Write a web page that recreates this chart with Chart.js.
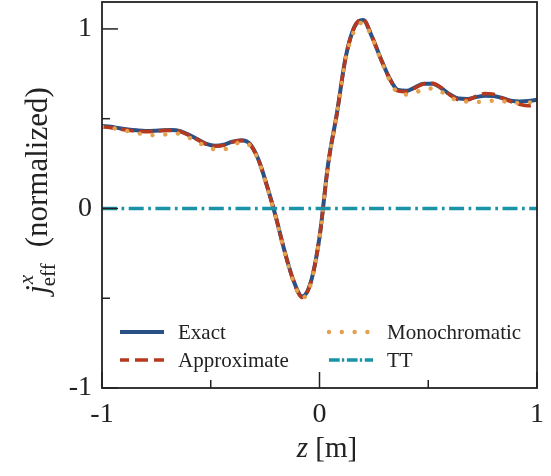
<!DOCTYPE html>
<html>
<head>
<meta charset="utf-8">
<script src="https://cdn.jsdelivr.net/npm/chart.js@4.4.0/dist/chart.umd.min.js"></script>
<style>
  body { margin: 0; background: #fff; }
</style>
</head>
<body>
<canvas id="myChart" width="551" height="476"></canvas>
<script>
// valores
const zs = [-1, -0.96, -0.92, -0.88, -0.84, -0.8, -0.76, -0.72, -0.68, -0.64, -0.6, -0.56, -0.52, -0.48, -0.44, -0.4, -0.36, -0.32, -0.28, -0.24, -0.2, -0.16, -0.12, -0.08, -0.04, 0, 0.04, 0.08, 0.12, 0.16, 0.2, 0.24, 0.28, 0.32, 0.36, 0.4, 0.44, 0.48, 0.52, 0.56, 0.6, 0.64, 0.68, 0.72, 0.76, 0.8, 0.84, 0.88, 0.92, 0.96, 1];
const exact = [0.46, 0.455, 0.447, 0.44, 0.435, 0.432, 0.433, 0.436, 0.437, 0.43, 0.41, 0.385, 0.36, 0.35, 0.355, 0.372, 0.38, 0.36, 0.27, 0.12, -0.05, -0.24, -0.40, -0.49, -0.41, -0.16, 0.25, 0.53, 0.84, 1.01, 1.05, 0.96, 0.84, 0.73, 0.66, 0.655, 0.675, 0.695, 0.695, 0.67, 0.635, 0.612, 0.61, 0.62, 0.628, 0.627, 0.615, 0.60, 0.596, 0.598, 0.605];
const approx = [0.455, 0.45, 0.443, 0.436, 0.43, 0.428, 0.43, 0.434, 0.435, 0.428, 0.408, 0.382, 0.357, 0.347, 0.352, 0.37, 0.378, 0.358, 0.268, 0.118, -0.052, -0.242, -0.402, -0.495, -0.412, -0.162, 0.248, 0.528, 0.838, 1.01, 1.055, 0.962, 0.838, 0.728, 0.655, 0.65, 0.672, 0.695, 0.697, 0.672, 0.632, 0.606, 0.605, 0.625, 0.64, 0.636, 0.615, 0.595, 0.58, 0.572, 0.578];
const mono = [0.455, 0.45, 0.44, 0.43, 0.42, 0.412, 0.408, 0.41, 0.418, 0.415, 0.395, 0.37, 0.345, 0.33, 0.33, 0.35, 0.37, 0.35, 0.265, 0.115, -0.055, -0.245, -0.405, -0.50, -0.42, -0.165, 0.245, 0.525, 0.83, 0.99, 1.035, 0.955, 0.835, 0.72, 0.645, 0.635, 0.645, 0.665, 0.668, 0.65, 0.62, 0.60, 0.595, 0.593, 0.595, 0.60, 0.598, 0.59, 0.587, 0.59, 0.595];
const ttZ = [-1, 1];
const tt = [0, 0];
const xTicks = [-1, -0.5, 0, 0.5, 1];
const yTicks = [-1, -0.5, 0, 0.5, 1];

const serif = "'Liberation Serif', 'DejaVu Serif', serif";
const ink = '#222';

function pts(xs, ys){ return xs.map((x, i) => ({x: x, y: ys[i]})); }

// moldura e marcas para dentro
const framePlugin = {
    id: 'frame',
    afterDraw(chart){
        const c = chart.ctx, a = chart.chartArea;
        const sx = chart.scales.x, sy = chart.scales.y;
        c.save();
        c.strokeStyle = ink;
        c.lineWidth = 1.8;
        c.strokeRect(a.left, a.top, a.right - a.left, a.bottom - a.top);
        c.lineWidth = 1.5;
        xTicks.forEach(v => {
            const px = sx.getPixelForValue(v);
            const len = Number.isInteger(v) ? 16 : 8;
            c.beginPath(); c.moveTo(px, a.bottom); c.lineTo(px, a.bottom - len); c.stroke();
        });
        yTicks.forEach(v => {
            const py = sy.getPixelForValue(v);
            const len = Number.isInteger(v) ? 16 : 8;
            c.beginPath(); c.moveTo(a.left, py); c.lineTo(a.left + len, py); c.stroke();
        });

        // título do eixo x: z [m]
        c.fillStyle = ink;
        c.textBaseline = 'alphabetic';
        c.font = 'italic 29px ' + serif;
        const wz = c.measureText('z ').width;
        c.font = '29px ' + serif;
        const wm = c.measureText('[m]').width;
        let x0 = 327 - (wz + wm) / 2;
        c.font = 'italic 29px ' + serif;
        c.fillText('z', x0, 457);
        c.font = '29px ' + serif;
        c.fillText('[m]', x0 + wz, 457);

        // título do eixo y
        c.translate(47, 191);
        c.rotate(-Math.PI / 2);
        c.font = 'italic 31px ' + serif;
        const wj = c.measureText('j').width;
        c.font = 'italic 21px ' + serif;
        const wx = c.measureText('x').width;
        c.font = '21px ' + serif;
        const we = c.measureText('eff').width;
        c.font = '31px ' + serif;
        const wn = c.measureText('(normalized)').width;
        const total = wj + Math.max(wx, we) + 14 + wn;
        let p = -total / 2;
        c.font = 'italic 31px ' + serif;
        c.fillText('j', p, 0);
        p += wj + 1;
        c.font = 'italic 21px ' + serif;
        c.fillText('x', p, -14);
        c.font = '21px ' + serif;
        c.fillText('eff', p - 2, 8);
        p += Math.max(wx, we) + 14;
        c.font = '31px ' + serif;
        c.fillText('(normalized)', p, 0);
        c.restore();
    }
};

// legenda em duas colunas
const legendPlugin = {
    id: 'twoColLegend',
    afterDraw(chart){
        const c = chart.ctx;
        const slots = [[118, 332], [118, 360], [327, 332], [327, 360]];
        c.save();
        c.font = '21px ' + serif;
        c.textBaseline = 'middle';
        chart.data.datasets.forEach((ds, i) => {
            const [lx, ly] = slots[i];
            c.strokeStyle = ds.borderColor;
            c.lineWidth = ds.borderWidth;
            c.setLineDash(ds.legendDash || ds.borderDash || []);
            c.lineDashOffset = ds.legendDashOffset || 0;
            c.lineCap = ds.borderCapStyle || 'butt';
            c.beginPath(); c.moveTo(lx + 2, ly); c.lineTo(lx + 46, ly); c.stroke();
            c.setLineDash([]);
            c.fillStyle = ink;
            c.fillText(ds.label, lx + 60, ly + 1);
        });
        c.restore();
    }
};

const ctx = document.getElementById('myChart').getContext('2d');
const myChart = new Chart(ctx, {
    type: 'line',
    data: {
        datasets: [
            {
                label: 'Exact',
                data: pts(zs, exact),
                borderColor: '#2a5185',
                borderWidth: 4,
                order: 4
            },
            {
                label: 'Approximate',
                data: pts(zs, approx),
                borderColor: '#b7391d',
                borderWidth: 3.6,
                borderDash: [13, 6],
                legendDashOffset: 4,
                order: 3
            },
            {
                label: 'Monochromatic',
                data: pts(zs, mono),
                borderColor: '#e5a04e',
                borderWidth: 4.4,
                borderDash: [0.01, 12.8],
                borderCapStyle: 'round',
                order: 2
            },
            {
                label: 'TT',
                data: pts(ttZ, tt),
                borderColor: '#1a93a8',
                borderWidth: 3.6,
                borderDash: [15, 4.5, 2.7, 4.5],
                legendDash: [10.7, 2.2, 2.3, 2.7],
                order: 1
            }
        ]
    },
    plugins: [framePlugin, legendPlugin],
    options: {
        responsive: false,
        animation: false,
        layout: { padding: { top: 2, right: 14, left: 0, bottom: 0 } },
        elements: {
            point: { radius: 0 },
            line: { cubicInterpolationMode: 'monotone', fill: false }
        },
        plugins: {
            legend: { display: false },
            tooltip: { enabled: false }
        },
        scales: {
            x: {
                type: 'linear',
                min: -1,
                max: 1,
                afterBuildTicks(scale){ scale.ticks = xTicks.map(v => ({value: v})); },
                afterFit(scale){
                    scale.height = 88;
                    scale.paddingLeft = 0;
                    scale.paddingRight = 0;
                },
                grid: { display: false, drawTicks: false },
                border: { display: false },
                ticks: {
                    padding: 10,
                    color: ink,
                    maxRotation: 0,
                    font: { family: serif, size: 28 },
                    callback: v => Number.isInteger(v) ? String(v) : ''
                }
            },
            y: {
                type: 'linear',
                min: -1,
                max: 1.15,
                afterBuildTicks(scale){ scale.ticks = yTicks.map(v => ({value: v})); },
                afterFit(scale){
                    scale.width = 102;
                    scale.paddingTop = 0;
                    scale.paddingBottom = 0;
                },
                grid: { display: false, drawTicks: false },
                border: { display: false },
                ticks: {
                    padding: 10,
                    color: ink,
                    font: { family: serif, size: 28 },
                    callback: v => Number.isInteger(v) ? String(v) : ''
                }
            }
        }
    }
});
</script>
</body>
</html>
